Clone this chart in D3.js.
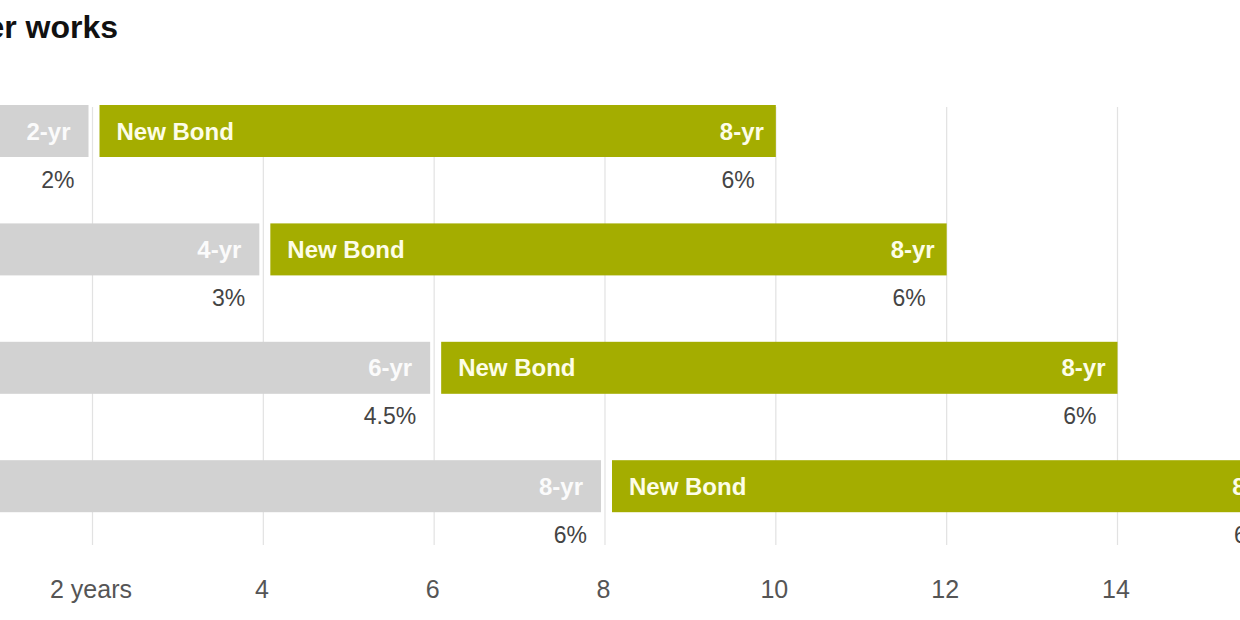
<!DOCTYPE html>
<html><head><meta charset="utf-8">
<script src="https://cdn.jsdelivr.net/npm/d3@7"></script>
<style>body{margin:0;background:#fff;overflow:hidden}svg{display:block;font-family:"Liberation Sans",Arial,sans-serif}</style>
</head><body>
<script>
const title = "How a bond ladder works";
const rows = ["r1","r2","r3","r4"];
const oldMaturity = [2, 4, 6, 8];
const oldLabels = ["2-yr","4-yr","6-yr","8-yr"];
const oldRates = ["2%","3%","4.5%","6%"];
const newLength = [8, 8, 8, 8];
const newLabels = ["8-yr","8-yr","8-yr","8-yr"];
const newRates = ["6%","6%","6%","6%"];
const tickValues = [2, 4, 6, 8, 10, 12, 14];
const tickLabels = ["2 years","4","6","8","10","12","14"];

const W = 1240, H = 620;
const svg = d3.select("body").append("svg").attr("width", W).attr("height", H);
const x = d3.scaleLinear().domain([2, 14]).range([92.5, 1117.5]);
const y = d3.scaleBand().domain(rows).range([105, 105 + 118.4 * 4]).paddingInner(0).paddingOuter(0);
const barH = 52;

svg.append("text").attr("x", 118).attr("y", 38).attr("text-anchor", "end")
  .attr("font-size", 32).attr("font-weight", "bold").attr("fill", "#111").text(title);

// grid
svg.append("g").selectAll("line").data(tickValues).join("line")
  .attr("x1", d => x(d)).attr("x2", d => x(d)).attr("y1", 107).attr("y2", 545)
  .attr("stroke", "#e2e2e2").attr("stroke-width", 1.2);

// axis
const axis = d3.axisBottom(x).tickValues(tickValues).tickSize(0).tickFormat((d, i) => tickLabels[i]);
const ag = svg.append("g").attr("transform", "translate(-2,577)").call(axis);
ag.select(".domain").remove();
ag.selectAll("text").attr("font-size", 25).attr("fill", "#555").attr("font-family", "Liberation Sans, Arial, sans-serif");

const data = rows.map((r, i) => ({r, om: oldMaturity[i], ol: oldLabels[i], orate: oldRates[i], nl: newLength[i], nlab: newLabels[i], nrate: newRates[i]}));

const g = svg.append("g");
const fs = 24;
// gray bars
g.selectAll("rect.old").data(data).join("rect").attr("class", "old")
  .attr("x", x(0)).attr("y", d => y(d.r)).attr("height", barH)
  .attr("width", d => x(d.om) - 4 - x(0)).attr("fill", "#d2d2d2");
g.selectAll("text.oldlab").data(data).join("text").attr("class", "oldlab")
  .attr("x", d => x(d.om) - 22).attr("y", d => y(d.r) + barH / 2 + 8.5)
  .attr("text-anchor", "end").attr("font-size", fs).attr("font-weight", "bold")
  .attr("fill", "#fbfbfb").text(d => d.ol);
// green bars
g.selectAll("rect.new").data(data).join("rect").attr("class", "new")
  .attr("x", d => x(d.om) + 7).attr("y", d => y(d.r)).attr("height", barH)
  .attr("width", d => x(d.om + d.nl) - x(d.om) - 7).attr("fill", "#a4ad00");
g.selectAll("text.newname").data(data).join("text").attr("class", "newname")
  .attr("x", d => x(d.om) + 24).attr("y", d => y(d.r) + barH / 2 + 8.5)
  .attr("font-size", fs).attr("font-weight", "bold").attr("fill", "#fdfde8").text("New Bond");
g.selectAll("text.newlab").data(data).join("text").attr("class", "newlab")
  .attr("x", d => x(d.om + d.nl) - 12).attr("y", d => y(d.r) + barH / 2 + 8.5)
  .attr("text-anchor", "end").attr("font-size", fs).attr("font-weight", "bold")
  .attr("fill", "#fdfde8").text(d => d.nlab);
// rates
g.selectAll("text.orate").data(data).join("text").attr("class", "orate")
  .attr("x", d => x(d.om) - 18).attr("y", d => y(d.r) + barH + 30.5)
  .attr("text-anchor", "end").attr("font-size", 23).attr("fill", "#444").text(d => d.orate);
g.selectAll("text.nrate").data(data).join("text").attr("class", "nrate")
  .attr("x", d => x(d.om + d.nl) - 21).attr("y", d => y(d.r) + barH + 30.5)
  .attr("text-anchor", "end").attr("font-size", 23).attr("fill", "#444").text(d => d.nrate);
</script>
</body></html>
